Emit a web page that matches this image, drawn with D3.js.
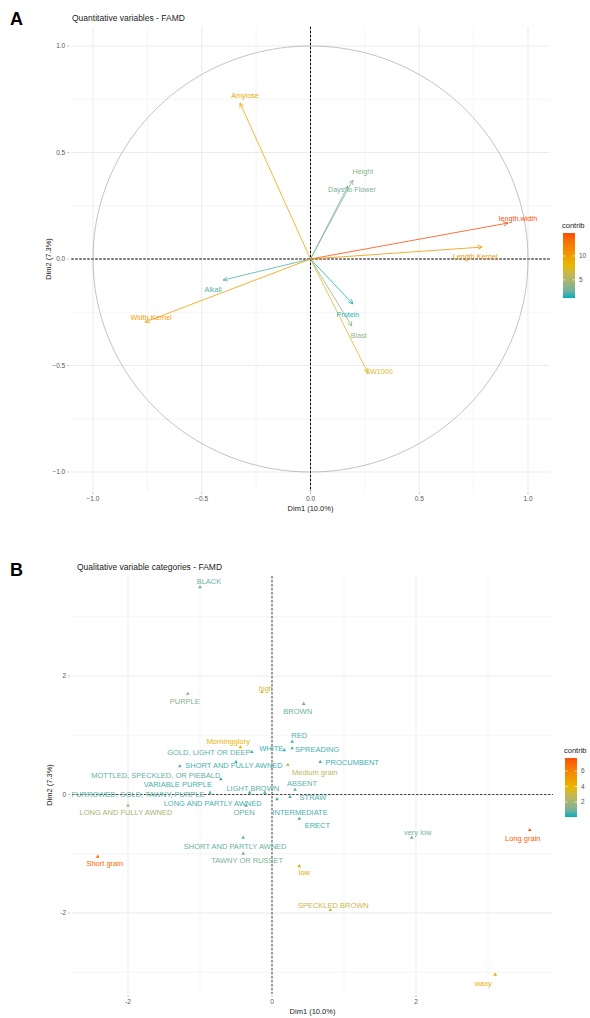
<!DOCTYPE html>
<html>
<head>
<meta charset="utf-8">
<script src="https://cdn.jsdelivr.net/npm/d3@7"></script>
<style>
  body { margin: 0; background: #fff; }
  svg text { font-family: "Liberation Sans", Arial, sans-serif; }
</style>
</head>
<body>
<div id="chart"></div>
<script>
// ---- panel A data: quantitative variables (correlation circle) ----
const varsA = ["length.width", "Length.Kernel", "Amylose", "Height", "Days to Flower",
               "Alkali", "Width.Kernel", "Protein", "Blast", "SW1000"];
const dim1A = [0.908, 0.789, -0.324, 0.195, 0.172, -0.402, -0.761, 0.195, 0.19, 0.264];
const dim2A = [0.169, 0.056, 0.732, 0.371, 0.343, -0.099, -0.296, -0.211, -0.315, -0.535];
const contribA = [14.8, 10.4, 9.3, 3.4, 3.0, 2.0, 10.0, 1.3, 4.0, 7.4];

// ---- panel B data: qualitative variable categories ----
const catsB = ["BLACK", "PURPLE", "high", "BROWN", "RED", "Morningglory", "GOLD, LIGHT OR DEEP",
  "WHITE", "SPREADING", "PROCUMBENT", "Medium grain", "SHORT AND FULLY AWNED",
  "MOTTLED, SPECKLED, OR PIEBALD", "VARIABLE PURPLE", "LIGHT BROWN", "ABSENT",
  "FURROWED, GOLD, TAWNY, PURPLE", "LONG AND PARTLY AWNED", "OPEN", "LONG AND FULLY AWNED",
  "STRAW", "INTERMEDIATE", "ERECT", "SHORT AND PARTLY AWNED", "TAWNY OR RUSSET", "low",
  "Short grain", "SPECKLED BROWN", "very low", "Long grain", "waxy"];
const dim1B = [-1.00, -1.17, -0.14, 0.44, 0.28, -0.44, -0.28, 0.17, 0.28, 0.67, 0.22, -0.50,
  -1.28, -0.71, -0.10, 0.32, -0.86, -0.31, -0.36, -2.00, 0.25, 0.07, 0.38, -0.40, -0.40, 0.38,
  -2.42, 0.81, 1.94, 3.58, 3.10];
const dim2B = [3.50, 1.70, 1.73, 1.53, 0.89, 0.80, 0.72, 0.75, 0.78, 0.55, 0.50, 0.55,
  0.48, 0.26, 0.03, 0.08, 0.03, 0.03, -0.19, -0.19, -0.04, -0.08, -0.41, -0.73, -1.00, -1.21,
  -1.05, -1.95, -0.73, -0.60, -3.04];
const contribB = [0.8, 1.3, 3.3, 0.8, 0.5, 4.0, 0.6, 0.3, 0.4, 0.3, 2.6, 0.4,
  0.7, 0.4, 0.6, 0.6, 0.6, 0.4, 0.7, 2.0, 0.5, 0.4, 0.3, 0.8, 1.1, 4.6,
  7.0, 3.0, 1.0, 7.4, 4.3];

const ticksA = [-1, -0.5, 0, 0.5, 1];
const ticksB = [-2, 0, 2];
const legendTicksA = [5, 10];
const legendTicksB = [2, 4, 6];

// label placement (pixel nudges, like ggrepel would pick)
const nudgeA = {
  "length.width": [10, -5], "Length.Kernel": [-7, 9], "Amylose": [5, -8], "Height": [10, -8],
  "Days to Flower": [4, 4], "Alkali": [-10, 9], "Width.Kernel": [6, -5], "Protein": [-5, 11],
  "Blast": [7, 9], "SW1000": [11, -1]
};
const nudgeB = {
  "BLACK": [9, -6], "PURPLE": [-3, 8], "high": [4, -4], "BROWN": [-6, 8], "RED": [7, -6],
  "Morningglory": [-12, -6], "GOLD, LIGHT OR DEEP": [-43, 1], "WHITE": [-13, -2],
  "SPREADING": [25, 1], "PROCUMBENT": [32, 0], "Medium grain": [27, 7],
  "SHORT AND FULLY AWNED": [-2, 3], "MOTTLED, SPECKLED, OR PIEBALD": [-24, 9],
  "VARIABLE PURPLE": [-43, 5], "LIGHT BROWN": [-12, -4], "ABSENT": [7, -6],
  "FURROWED, GOLD, TAWNY, PURPLE": [-72, 2], "LONG AND PARTLY AWNED": [-37, 11],
  "OPEN": [-2, 7], "LONG AND FULLY AWNED": [-2, 7], "STRAW": [23, 1], "INTERMEDIATE": [23, 13],
  "ERECT": [18, 7], "SHORT AND PARTLY AWNED": [-8, 9], "TAWNY OR RUSSET": [4, 7],
  "low": [5, 6], "Short grain": [7, 7], "SPECKLED BROWN": [3, -5], "very low": [6, -5],
  "Long grain": [-7, 8], "waxy": [-12, 9]
};

const W = 590, H = 1018;
const gradCols = ["#00AFBB", "#E7B800", "#FC4E07"];
const gridCol = "#ebebeb";
const tickCol = "#555";

const svg = d3.select("#chart").append("svg")
  .attr("width", W).attr("height", H);

function colorScale(domain) {
  const mid = (domain[0] + domain[1]) / 2;
  return d3.scaleLinear().domain([domain[0], mid, domain[1]])
    .range(gradCols).interpolate(d3.interpolateLab);
}

// generic panel frame: grid, ticks, dashed zero lines, titles
function drawFrame(g, x, y, box, majorX, majorY, minorX, minorY, fmt, opts) {
  const [x0, x1, y0, y1] = box;
  g.append("g").selectAll("line").data(minorX).join("line")
    .attr("x1", d => x(d)).attr("x2", d => x(d)).attr("y1", y0).attr("y2", y1)
    .attr("stroke", gridCol).attr("stroke-width", 0.5);
  g.append("g").selectAll("line").data(minorY).join("line")
    .attr("y1", d => y(d)).attr("y2", d => y(d)).attr("x1", x0).attr("x2", x1)
    .attr("stroke", gridCol).attr("stroke-width", 0.5);
  g.append("g").selectAll("line").data(majorX).join("line")
    .attr("x1", d => x(d)).attr("x2", d => x(d)).attr("y1", y0).attr("y2", y1)
    .attr("stroke", gridCol).attr("stroke-width", 1);
  g.append("g").selectAll("line").data(majorY).join("line")
    .attr("y1", d => y(d)).attr("y2", d => y(d)).attr("x1", x0).attr("x2", x1)
    .attr("stroke", gridCol).attr("stroke-width", 1);

  // tick labels + tiny tick marks
  g.append("g").selectAll("text").data(majorY).join("text")
    .attr("x", x0 - 6).attr("y", d => y(d)).attr("dy", "0.35em")
    .attr("text-anchor", "end").attr("font-size", 6.5).attr("fill", tickCol)
    .text(fmt);
  g.append("g").selectAll("line").data(majorY).join("line")
    .attr("x1", x0 - 4).attr("x2", x0 - 2).attr("y1", d => y(d)).attr("y2", d => y(d))
    .attr("stroke", "#999").attr("stroke-width", 0.6);
  g.append("g").selectAll("text").data(majorX).join("text")
    .attr("x", d => x(d)).attr("y", y1 + 10)
    .attr("text-anchor", "middle").attr("font-size", 6.5).attr("fill", tickCol)
    .text(fmt);
  g.append("g").selectAll("line").data(majorX).join("line")
    .attr("x1", d => x(d)).attr("x2", d => x(d)).attr("y1", y1 + 1).attr("y2", y1 + 3)
    .attr("stroke", "#999").attr("stroke-width", 0.6);

  // dashed zero lines
  g.append("line").attr("x1", x0).attr("x2", x1).attr("y1", y(0)).attr("y2", y(0))
    .attr("stroke", "#000").attr("stroke-width", opts.dashW).attr("stroke-dasharray", "2.5,1.5");
  g.append("line").attr("x1", x(0)).attr("x2", x(0)).attr("y1", y0).attr("y2", y1)
    .attr("stroke", "#000").attr("stroke-width", opts.dashW).attr("stroke-dasharray", "2.5,1.5");

  // axis titles
  g.append("text").attr("x", (x0 + x1) / 2).attr("y", y1 + 20)
    .attr("text-anchor", "middle").attr("font-size", 7.5).attr("fill", "#222")
    .text("Dim1 (10.0%)");
  g.append("text")
    .attr("transform", `translate(${x0 - 20},${(y0 + y1) / 2}) rotate(-90)`)
    .attr("text-anchor", "middle").attr("font-size", 7.5).attr("fill", "#222")
    .text("Dim2 (7.3%)");
}

function drawLegend(g, col, domain, ticks, bx, by0, by1) {
  const ls = d3.scaleLinear().domain(domain).range([by1, by0]);
  const id = "grad" + Math.round(bx * 10 + by0);
  const grad = svg.append("defs").append("linearGradient").attr("id", id)
    .attr("x1", 0).attr("x2", 0).attr("y1", 1).attr("y2", 0);
  d3.range(0, 1.0001, 0.1).forEach(t => {
    grad.append("stop").attr("offset", t)
      .attr("stop-color", col(domain[0] + t * (domain[1] - domain[0])));
  });
  g.append("text").attr("x", bx - 1).attr("y", by0 - 5)
    .attr("font-size", 7.5).attr("fill", "#222").text("contrib");
  g.append("rect").attr("x", bx).attr("y", by0).attr("width", 12).attr("height", by1 - by0)
    .attr("fill", `url(#${id})`);
  ticks.forEach(t => {
    g.append("line").attr("x1", bx).attr("x2", bx + 2.5).attr("y1", ls(t)).attr("y2", ls(t))
      .attr("stroke", "#fff").attr("stroke-width", 0.6);
    g.append("line").attr("x1", bx + 9.5).attr("x2", bx + 12).attr("y1", ls(t)).attr("y2", ls(t))
      .attr("stroke", "#fff").attr("stroke-width", 0.6);
    g.append("text").attr("x", bx + 16).attr("y", ls(t)).attr("dy", "0.35em")
      .attr("font-size", 6.5).attr("fill", tickCol).text(t);
  });
}

//////////////////////////////////////
////////// Panel A ///////////////////
//////////////////////////////////////
const gA = svg.append("g");
const xA = d3.scaleLinear().domain([-1, 1]).range([93, 528]);
const yA = d3.scaleLinear().domain([-1, 1]).range([472, 46]);
const boxA = [xA(-1.1), xA(1.1), yA(1.1) + 2, yA(-1.1) - 2];
const fmtA = d => d3.format(".1f")(d);

gA.append("text").attr("x", 10).attr("y", 25).attr("font-size", 18).attr("font-weight", "bold")
  .text("A");
gA.append("text").attr("x", 72).attr("y", 21).attr("font-size", 8.5).attr("fill", "#222")
  .text("Quantitative variables - FAMD");

drawFrame(gA, xA, yA, boxA, ticksA, ticksA, [-0.75, -0.25, 0.25, 0.75], [-0.75, -0.25, 0.25, 0.75],
  fmtA, { dashW: 1 });

// correlation circle
const circ = d3.range(0, 2 * Math.PI + 0.01, Math.PI / 90).map(a => [Math.cos(a), Math.sin(a)]);
gA.append("path")
  .attr("d", d3.line().x(d => xA(d[0])).y(d => yA(d[1]))(circ))
  .attr("fill", "none").attr("stroke", "#9a9a9a").attr("stroke-width", 0.6);

const domA = [1.2, 14.8];
const colA = colorScale(domA);
const dataA = varsA.map((v, i) => ({ name: v, x: dim1A[i], y: dim2A[i], c: contribA[i] }));

gA.append("g").selectAll("line").data(dataA).join("line")
  .attr("x1", xA(0)).attr("y1", yA(0))
  .attr("x2", d => xA(d.x)).attr("y2", d => yA(d.y))
  .attr("stroke", d => colA(d.c)).attr("stroke-width", 0.8);

// arrow heads
gA.append("g").selectAll("path").data(dataA).join("path")
  .attr("d", d => {
    const tx = xA(d.x), ty = yA(d.y);
    const ang = Math.atan2(ty - yA(0), tx - xA(0));
    const L = 5, s = Math.PI / 7;
    const p1 = [tx - L * Math.cos(ang - s), ty - L * Math.sin(ang - s)];
    const p2 = [tx - L * Math.cos(ang + s), ty - L * Math.sin(ang + s)];
    return `M${p1}L${tx},${ty}L${p2}`;
  })
  .attr("fill", "none").attr("stroke", d => colA(d.c)).attr("stroke-width", 0.8);

gA.append("g").selectAll("text").data(dataA).join("text")
  .attr("x", d => xA(d.x) + nudgeA[d.name][0])
  .attr("y", d => yA(d.y) + nudgeA[d.name][1])
  .attr("dy", "0.35em").attr("text-anchor", "middle")
  .attr("font-size", 7.2).attr("fill", d => colA(d.c))
  .text(d => d.name);

drawLegend(gA, colA, domA, legendTicksA, 563, 233, 298);

//////////////////////////////////////
////////// Panel B ///////////////////
//////////////////////////////////////
const gB = svg.append("g");
const xB = d3.scaleLinear().domain([-2, 2]).range([128, 416]);
const yB = d3.scaleLinear().domain([-2, 2]).range([913, 676]);

gB.append("text").attr("x", 10).attr("y", 576).attr("font-size", 18).attr("font-weight", "bold")
  .text("B");
gB.append("text").attr("x", 77).attr("y", 570).attr("font-size", 8.5).attr("fill", "#222")
  .text("Qualitative variable categories - FAMD");

drawFrame(gB, xB, yB, [72, 553, 576, 994], ticksB, ticksB, [-1, 1, 3], [-3, -1, 1, 3],
  d => d, { dashW: 0.7 });

const domB = [0.05, 7.7];
const colB = colorScale(domB);
const dataB = catsB.map((v, i) => ({ name: v, x: dim1B[i], y: dim2B[i], c: contribB[i] }));

gB.append("g").selectAll("path").data(dataB).join("path")
  .attr("transform", d => `translate(${xB(d.x)},${yB(d.y)})`)
  .attr("d", d3.symbol().type(d3.symbolTriangle).size(6))
  .attr("fill", d => colB(d.c));

gB.append("g").selectAll("text").data(dataB).join("text")
  .attr("x", d => xB(d.x) + nudgeB[d.name][0])
  .attr("y", d => yB(d.y) + nudgeB[d.name][1])
  .attr("dy", "0.35em").attr("text-anchor", "middle")
  .attr("font-size", 7.5).attr("fill", d => colB(d.c))
  .text(d => d.name);

drawLegend(gB, colB, domB, legendTicksB, 565, 758, 817);
</script>
</body>
</html>
